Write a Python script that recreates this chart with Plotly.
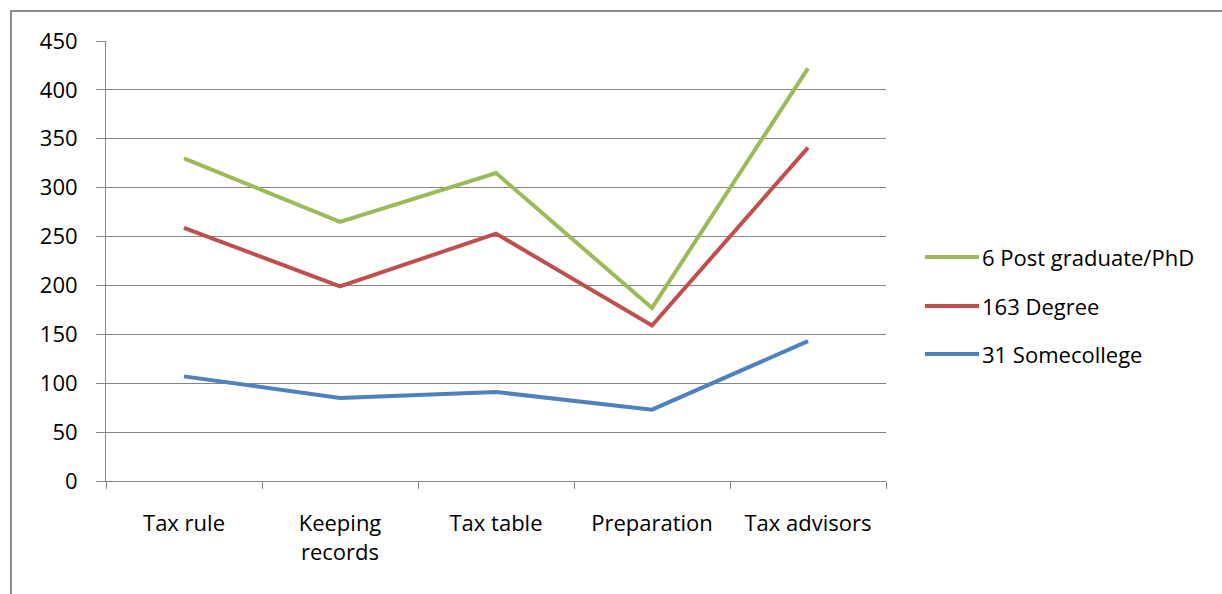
import plotly.graph_objects as go

# Categories and series values
categories = ["Tax rule", "Keeping<br>records", "Tax table", "Preparation", "Tax advisors"]
series_names = ["6 Post graduate/PhD", "163 Degree", "31 Somecollege"]
postgrad = [330, 265, 315, 177, 422]
degree = [259, 199, 253, 159, 341]
somecollege = [107, 85, 91, 73, 143]
series_values = [postgrad, degree, somecollege]
series_colors = ["#9BBB59", "#C0504D", "#4F81BD"]
y_ticks = [0, 50, 100, 150, 200, 250, 300, 350, 400, 450]

FONT = "Open Sans, Calibri, Carlito, sans-serif"
FSIZE = 22

fig = go.Figure()
for name, vals, col in zip(series_names, series_values, series_colors):
    fig.add_trace(go.Scatter(
        x=categories, y=vals, name=name, mode="lines",
        line=dict(color=col, width=4), showlegend=False,
    ))

W, H = 1222, 594
ml, mr, mt, mb = 106, 336, 41, 113
pw, ph = W - ml - mr, H - mt - mb

def px_to_paper_x(px):
    return (px - ml) / pw

def px_to_paper_y(py):
    return (H - mb - py) / ph

shapes = []
annotations = []

# Outer chart frame (runs past the right and bottom edges)
shapes.append(dict(
    type="rect", xref="paper", yref="paper",
    x0=px_to_paper_x(11), x1=px_to_paper_x(W + 20),
    y0=px_to_paper_y(H + 20), y1=px_to_paper_y(11),
    line=dict(color="#8C8C8C", width=2), fillcolor="rgba(0,0,0,0)", layer="below",
))

# Legend built from the series lists
legend_rows = [257, 306, 354]
for name, col, ry in zip(series_names, series_colors, legend_rows):
    shapes.append(dict(
        type="line", xref="paper", yref="paper",
        x0=px_to_paper_x(925), x1=px_to_paper_x(979),
        y0=px_to_paper_y(ry), y1=px_to_paper_y(ry),
        line=dict(color=col, width=4),
    ))
    annotations.append(dict(
        xref="paper", yref="paper",
        x=px_to_paper_x(980), y=px_to_paper_y(ry),
        xanchor="left", yanchor="middle", showarrow=False,
        text=name, font=dict(family=FONT, size=FSIZE, color="#000000"),
    ))

fig.update_layout(
    width=W, height=H,
    margin=dict(l=ml, r=mr, t=mt, b=mb),
    paper_bgcolor="white", plot_bgcolor="white",
    font=dict(family=FONT, size=FSIZE, color="#000000"),
    shapes=shapes, annotations=annotations,
    showlegend=False,
)
fig.update_xaxes(
    type="category", tickson="boundaries", range=[-0.5, 4.5],
    showline=True, linecolor="#868686", linewidth=1,
    ticks="outside", ticklen=7, tickcolor="#868686",
    showgrid=False, ticklabelstandoff=23,
    tickfont=dict(family=FONT, size=FSIZE, color="#000000"),
)
fig.update_yaxes(
    range=[0, 450], tickvals=y_ticks,
    showline=True, linecolor="#868686", linewidth=1,
    ticks="outside", ticklen=9, tickcolor="#868686",
    showgrid=True, gridcolor="#868686", gridwidth=1,
    zeroline=False, ticklabelstandoff=14,
    tickfont=dict(family=FONT, size=FSIZE, color="#000000"),
)

fig.write_html("out.html")
